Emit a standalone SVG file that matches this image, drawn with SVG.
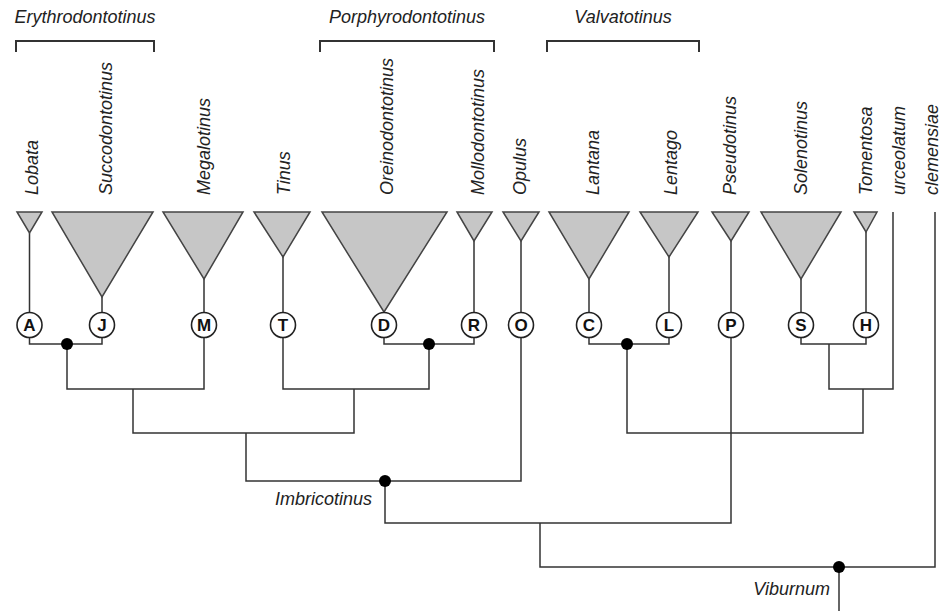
<svg xmlns="http://www.w3.org/2000/svg" width="943" height="611" viewBox="0 0 943 611">
<style>
.bg{fill:#fff}
.lbl{font-family:"Liberation Sans",Arial,sans-serif;font-style:italic;font-size:18px;fill:#222}
.tri{fill:#c6c6c6;stroke:#444;stroke-width:1.5;stroke-linejoin:miter}
.cir{fill:#fff;stroke:#222;stroke-width:1.6}
.let{font-family:"Liberation Sans",Arial,sans-serif;font-weight:bold;font-size:17px;fill:#111;text-anchor:middle}
.ln{fill:none;stroke:#333;stroke-width:1.5}
.br{fill:none;stroke:#333;stroke-width:2}
.dot{fill:#000}
</style>
<rect class="bg" x="0" y="0" width="943" height="611"/>

<g id="groups">
  <g id="erythrodontotinus">
    <text class="lbl" x="85" y="23" text-anchor="middle">Erythrodontotinus</text>
    <path class="br" d="M16,52 V41 H154 V52"/>
  </g>
  <g id="porphyrodontotinus">
    <text class="lbl" x="407" y="23" text-anchor="middle">Porphyrodontotinus</text>
    <path class="br" d="M320,52 V41 H494 V52"/>
  </g>
  <g id="valvatotinus">
    <text class="lbl" x="623" y="23" text-anchor="middle">Valvatotinus</text>
    <path class="br" d="M547,52 V41 H699 V52"/>
  </g>
</g>

<g id="connectors">
  <path class="ln" d="M29.5,233 V312.5 M102,297 V312.5 M204,279 V312.5 M283,257 V312.5 M474,241 V312.5 M521,241 V312.5 M589,279 V312.5 M669,257 V312.5 M731,241 V312.5 M801,279 V312.5 M866,232 V312.5"/>
  <path class="ln" d="M29.5,337.5 V344 H102 V337.5"/>
  <path class="ln" d="M67,344 V389 H204 V337.5"/>
  <path class="ln" d="M384,337.5 V344 H474 V337.5"/>
  <path class="ln" d="M429,344 V389 H283 V337.5"/>
  <path class="ln" d="M133,389 V433 H354 V389"/>
  <path class="ln" d="M246,433 V481 H521 V337.5"/>
  <path class="ln" d="M385,481 V523 H731 V337.5"/>
  <path class="ln" d="M589,337.5 V344 H669 V337.5"/>
  <path class="ln" d="M627,344 V433 H863 V389"/>
  <path class="ln" d="M801,337.5 V344 H866 V337.5"/>
  <path class="ln" d="M829,344 V389 H893 V212"/>
  <path class="ln" d="M540,523 V567 H935 V212"/>
  <path class="ln" d="M839,567 V611"/>
  <circle class="dot" cx="67" cy="344" r="6"/>
  <circle class="dot" cx="429" cy="344" r="6"/>
  <circle class="dot" cx="627" cy="344" r="6"/>
  <circle class="dot" cx="385" cy="481" r="6"/>
  <circle class="dot" cx="839" cy="567" r="6"/>
  <text class="lbl" x="372" y="505" text-anchor="end">Imbricotinus</text>
  <text class="lbl" x="830" y="595" text-anchor="end">Viburnum</text>
</g>

<g id="node-lobata">
  <text class="lbl" transform="translate(38,195) rotate(-90)">Lobata</text>
  <polygon class="tri" points="17,212 42,212 29.5,233"/>
  <circle class="cir" cx="29.5" cy="325" r="12.5"/><text class="let" x="29.5" y="331">A</text>
</g>
<g id="node-succodontotinus">
  <text class="lbl" transform="translate(112,195) rotate(-90)">Succodontotinus</text>
  <polygon class="tri" points="52,212 153,212 102,297"/>
  <circle class="cir" cx="102" cy="325" r="12.5"/><text class="let" x="102" y="331">J</text>
</g>
<g id="node-megalotinus">
  <text class="lbl" transform="translate(210,195) rotate(-90)">Megalotinus</text>
  <polygon class="tri" points="163,212 243,212 204,279"/>
  <circle class="cir" cx="204" cy="325" r="12.5"/><text class="let" x="204" y="331">M</text>
</g>
<g id="node-tinus">
  <text class="lbl" transform="translate(290,195) rotate(-90)">Tinus</text>
  <polygon class="tri" points="254,212 310,212 283,257"/>
  <circle class="cir" cx="283" cy="325" r="12.5"/><text class="let" x="283" y="331">T</text>
</g>
<g id="node-oreinodontotinus">
  <text class="lbl" transform="translate(393,195) rotate(-90)">Oreinodontotinus</text>
  <polygon class="tri" points="322,212 447,212 384,312"/>
  <circle class="cir" cx="384" cy="325" r="12.5"/><text class="let" x="384" y="331">D</text>
</g>
<g id="node-mollodontotinus">
  <text class="lbl" transform="translate(484,195) rotate(-90)">Mollodontotinus</text>
  <polygon class="tri" points="457,212 492,212 474,241"/>
  <circle class="cir" cx="474" cy="325" r="12.5"/><text class="let" x="474" y="331">R</text>
</g>
<g id="node-opulus">
  <text class="lbl" transform="translate(526,195) rotate(-90)">Opulus</text>
  <polygon class="tri" points="503,212 539,212 521,241"/>
  <circle class="cir" cx="521" cy="325" r="12.5"/><text class="let" x="521" y="331">O</text>
</g>
<g id="node-lantana">
  <text class="lbl" transform="translate(599,195) rotate(-90)">Lantana</text>
  <polygon class="tri" points="549,212 629,212 589,279"/>
  <circle class="cir" cx="589" cy="325" r="12.5"/><text class="let" x="589" y="331">C</text>
</g>
<g id="node-lentago">
  <text class="lbl" transform="translate(677,195) rotate(-90)">Lentago</text>
  <polygon class="tri" points="640,212 698,212 669,257"/>
  <circle class="cir" cx="669" cy="325" r="12.5"/><text class="let" x="669" y="331">L</text>
</g>
<g id="node-pseudotinus">
  <text class="lbl" transform="translate(736,195) rotate(-90)">Pseudotinus</text>
  <polygon class="tri" points="712,212 749,212 731,241"/>
  <circle class="cir" cx="731" cy="325" r="12.5"/><text class="let" x="731" y="331">P</text>
</g>
<g id="node-solenotinus">
  <text class="lbl" transform="translate(807,195) rotate(-90)">Solenotinus</text>
  <polygon class="tri" points="761,212 841,212 801,279"/>
  <circle class="cir" cx="801" cy="325" r="12.5"/><text class="let" x="801" y="331">S</text>
</g>
<g id="node-tomentosa">
  <text class="lbl" transform="translate(872,195) rotate(-90)">Tomentosa</text>
  <polygon class="tri" points="854,212 877,212 866,232"/>
  <circle class="cir" cx="866" cy="325" r="12.5"/><text class="let" x="866" y="331">H</text>
</g>
<g id="node-urceolatum">
  <text class="lbl" transform="translate(905,195) rotate(-90)">urceolatum</text>
</g>
<g id="node-clemensiae">
  <text class="lbl" transform="translate(938,195) rotate(-90)">clemensiae</text>
</g>
</svg>
